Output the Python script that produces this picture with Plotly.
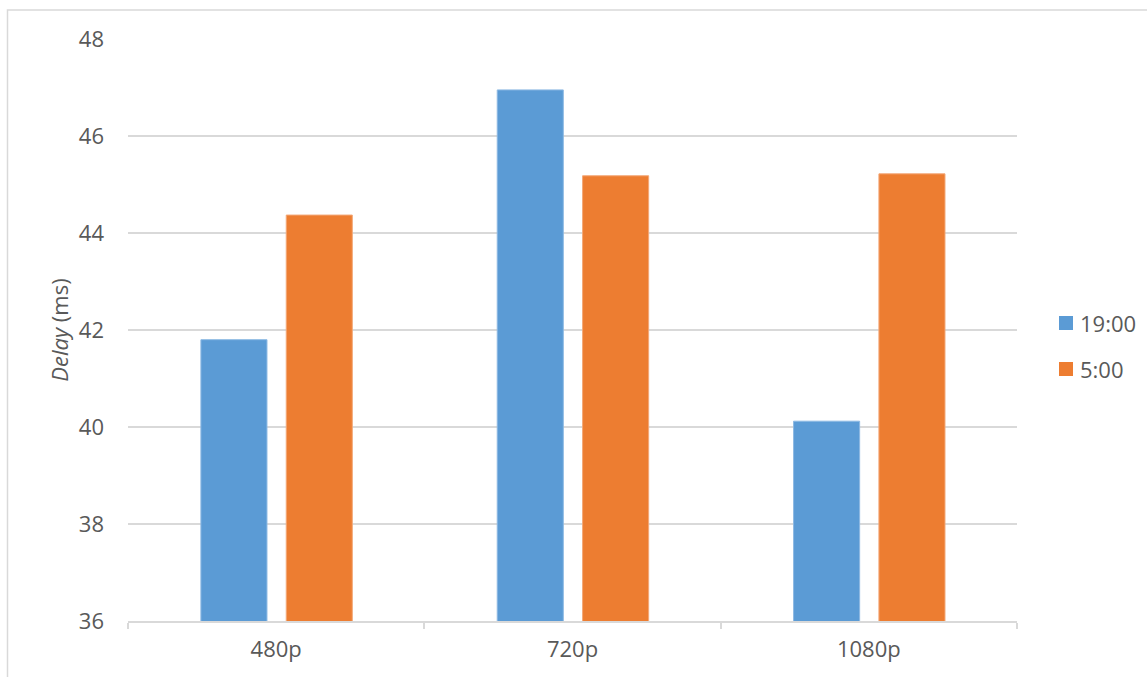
import plotly.graph_objects as go

# Delay per resolution, measured at two times of day
resolutions = ["480p", "720p", "1080p"]
delay_1900 = [41.8, 46.95, 40.12]
delay_0500 = [44.37, 45.18, 45.22]
series_names = ["19:00", "5:00"]
y_ticks = [36, 38, 40, 42, 44, 46, 48]

W, H = 1147, 677
L, R, T, B = 128, 130, 39, 56
pw, ph = W - L - R, H - T - B

BLUE = "#5B9BD5"
ORANGE = "#ED7D31"
GRID = "#D9D9D9"
TEXT = "#595959"
FONT = "Open Sans, Liberation Sans, sans-serif"
FS = 22

bar_w = 0.223
fig = go.Figure()
fig.add_trace(go.Bar(
    x=resolutions, y=delay_1900, name=series_names[0], marker_color=BLUE,
    marker_line=dict(width=1, color="#8DB9E3"), width=bar_w, offset=-0.254,
    base=0,
))
fig.add_trace(go.Bar(
    x=resolutions, y=delay_0500, name=series_names[1], marker_color=ORANGE,
    marker_line=dict(width=1, color="#F3A878"), width=bar_w, offset=0.034,
    base=0,
))


def px_x(p):
    return (p - L) / pw


def px_y(p):
    return (H - B - p) / ph


# Legend drawn as swatches + labels to the right of the plot area
shapes = [
    dict(type="rect", xref="paper", yref="paper",
         x0=px_x(7.5), x1=px_x(1300), y0=px_y(800), y1=px_y(10),
         line=dict(color=GRID, width=1.5), layer="below"),
]
annotations = []
for i, (name, color) in enumerate(zip(series_names, [BLUE, ORANGE])):
    cy = 323 + 46 * i
    shapes.append(dict(
        type="rect", xref="paper", yref="paper",
        x0=px_x(1059), x1=px_x(1073), y0=px_y(cy + 7), y1=px_y(cy - 7),
        fillcolor=color, line=dict(width=0),
    ))
    annotations.append(dict(
        text=name, xref="paper", yref="paper", x=px_x(1078), y=px_y(cy),
        xanchor="left", yanchor="middle", showarrow=False,
        font=dict(size=FS, color=TEXT),
    ))

fig.update_layout(
    width=W, height=H,
    margin=dict(l=L, r=R, t=T, b=B, pad=0, autoexpand=False),
    paper_bgcolor="white", plot_bgcolor="white",
    barmode="overlay",
    font=dict(family=FONT, size=FS, color=TEXT),
    showlegend=False,
    xaxis=dict(
        type="category", showgrid=False, showline=True, linecolor=GRID,
        linewidth=1.5, ticks="outside", tickson="boundaries", ticklen=6,
        tickcolor=GRID, tickwidth=1.5, tickfont=dict(size=FS, color=TEXT),
        ticklabelstandoff=8, range=[-0.5, 2.5], fixedrange=True,
    ),
    yaxis=dict(
        range=[36, 48], tickvals=y_ticks, showgrid=True, gridcolor=GRID,
        gridwidth=1.5, zeroline=False, showline=False, ticks="",
        tickfont=dict(size=FS, color=TEXT), ticklabelstandoff=23,
        title=dict(text="<i>Delay</i> (ms)", font=dict(size=FS, color=TEXT),
                   standoff=4),
    ),
    shapes=shapes,
    annotations=annotations,
)

fig.write_html("out.html")
